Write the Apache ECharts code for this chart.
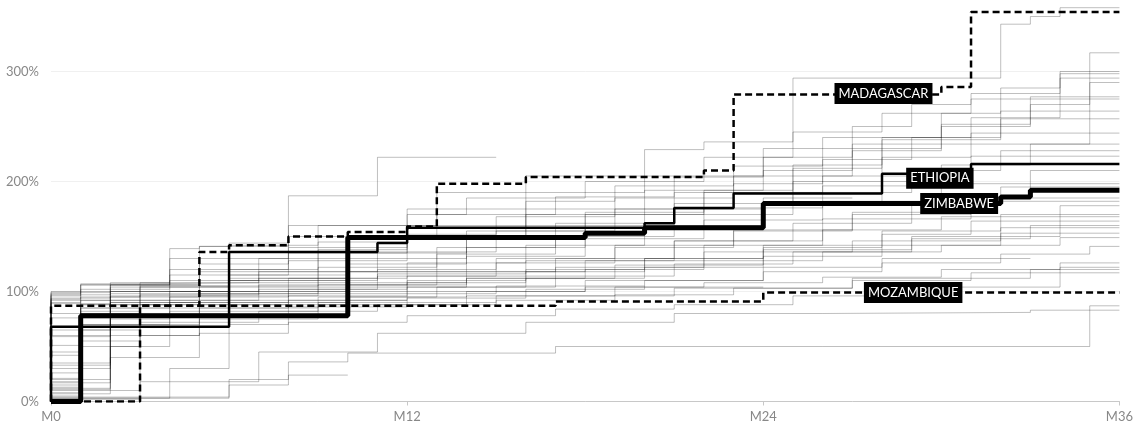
<!DOCTYPE html>
<html>
<head>
<meta charset="utf-8">
<script src="https://cdn.jsdelivr.net/npm/echarts@6/dist/echarts.min.js"></script>
<style>
  html, body { margin: 0; padding: 0; background: #fff; }
  #chart { width: 1136px; height: 426px; }
</style>
</head>
<body>
<div id="chart"></div>
<script>
// x = months since start, y = percent. each line is a list of [month, new level] change points
var xTicks = [0, 12, 24, 36];
var yTicks = [0, 100, 200, 300];

var zimbabwe = [[0,0],[1,78],[10,149],[18,153],[20,158],[24,180],[32,186],[33,192],[36,192]];
var ethiopia = [[0,0],[0,68],[6,136],[11,144],[12,158],[20,162],[21,176],[23,189],[28,207],[31,216],[36,216]];
var madagascar = [[0,0],[0,87],[5,136],[6,142],[8,150],[10,154],[12,159],[13,198],[16,204],[22,210],[23,279],[30,286],[31,354],[36,354]];
var mozambique = [[0,0],[3,87],[17,91],[24,99],[36,99]];

var labelNames = ['MADAGASCAR', 'ETHIOPIA', 'ZIMBABWE', 'MOZAMBIQUE'];
var labelSpots = [[28.05, 280], [29.95, 203], [30.6, 180], [29.05, 99]];

// the other countries (grey)
var otherCountries = [
  [[0,0],[0,92],[2,106],[5,141],[8,160],[13,190],[16,205],[20,229],[22,236],[25,294],[32,343],[33,350],[34,358],[36,358]],
  [[0,0],[0,90],[1,100],[3,108],[6,142],[9,160],[12,175],[16,190],[20,205],[24,222],[27,234],[35,317],[36,317]],
  [[0,0],[0,99],[2,108],[4,130],[8,150],[12,170],[14,185],[18,200],[22,222],[25,245],[28,262],[31,275],[34,300],[36,300]],
  [[0,0],[1,95],[3,105],[6,120],[9,145],[12,160],[16,182],[19,196],[23,214],[26,240],[30,262],[32,285],[34,298],[36,298]],
  [[0,0],[0,60],[1,88],[4,110],[7,130],[10,150],[13,170],[17,186],[21,204],[24,230],[27,250],[29,270],[31,280],[34,294],[36,294]],
  [[0,0],[0,15],[1,92],[3,104],[5,118],[9,138],[12,152],[15,168],[19,185],[23,205],[27,228],[30,250],[33,270],[35,290],[36,290]],
  [[0,0],[0,97],[2,106],[5,125],[8,140],[12,158],[16,175],[20,192],[24,210],[27,230],[30,252],[33,277],[36,277]],
  [[0,0],[0,8],[1,85],[2,100],[6,112],[10,130],[14,150],[18,170],[22,192],[25,215],[28,240],[31,258],[34,275],[36,275]],
  [[0,0],[0,93],[1,102],[4,115],[8,128],[12,150],[16,170],[21,190],[25,212],[28,238],[32,264],[36,264]],
  [[0,0],[0,42],[1,80],[3,100],[7,118],[11,136],[15,155],[19,175],[23,198],[26,220],[29,240],[32,257],[36,257]],
  [[0,0],[0,12],[2,90],[5,105],[9,122],[13,140],[17,162],[21,180],[25,200],[28,222],[31,244],[36,244]],
  [[0,0],[0,89],[2,98],[6,110],[10,125],[14,140],[18,158],[22,176],[26,196],[30,215],[33,234],[36,234]],
  [[0,0],[1,70],[2,95],[5,104],[9,118],[13,134],[17,150],[21,170],[25,190],[29,210],[32,228],[36,228]],
  [[0,0],[0,26],[1,88],[4,100],[8,112],[12,126],[16,142],[20,160],[24,180],[28,200],[31,223],[36,223]],
  [[0,0],[0,76],[2,96],[6,108],[10,118],[14,132],[18,148],[22,165],[26,182],[30,198],[33,210],[36,210]],
  [[0,0],[0,5],[1,65],[3,92],[7,102],[11,114],[15,126],[19,140],[23,156],[27,172],[30,186],[33,198],[36,198]],
  [[0,0],[0,33],[2,85],[5,96],[9,106],[13,118],[17,130],[21,146],[25,162],[29,180],[32,195],[36,195]],
  [[0,0],[0,100],[1,107],[3,108],[7,112],[11,120],[15,130],[19,142],[23,155],[27,170],[31,185],[36,185]],
  [[0,0],[0,2],[1,55],[3,88],[6,98],[10,108],[14,118],[18,128],[22,142],[26,156],[30,168],[34,178],[36,178]],
  [[0,0],[0,17],[2,75],[4,90],[8,100],[12,108],[16,118],[20,130],[24,142],[28,155],[32,170],[36,170]],
  [[0,0],[0,51],[1,85],[4,95],[8,102],[12,110],[16,120],[20,130],[24,140],[28,152],[31,164],[36,164]],
  [[0,0],[0,10],[3,60],[5,85],[9,95],[13,104],[17,114],[21,125],[25,136],[29,148],[33,160],[36,160]],
  [[0,0],[0,21],[1,70],[4,88],[8,96],[12,104],[16,112],[20,122],[24,132],[28,142],[32,153],[36,153]],
  [[0,0],[0,65],[2,92],[6,100],[10,106],[14,112],[18,120],[22,128],[26,136],[30,142],[34,149],[36,149]],
  [[0,0],[0,3],[4,30],[6,70],[8,86],[12,94],[16,102],[20,110],[24,118],[28,126],[32,134],[35,141],[36,141]],
  [[0,0],[0,59],[2,80],[6,88],[10,95],[14,100],[18,104],[22,108],[26,113],[30,120],[34,126],[36,126]],
  [[0,0],[0,13],[1,50],[3,72],[7,82],[11,88],[15,92],[19,97],[23,103],[27,110],[31,117],[34,122],[36,122]],
  [[0,0],[0,7],[2,40],[5,62],[8,72],[12,78],[17,84],[21,88],[25,96],[28,104],[34,117],[36,117]],
  [[0,0],[0,4],[6,20],[8,36],[10,44],[17,50],[35,87],[36,87]],
  [[0,0],[0,2],[3,18],[7,45],[11,62],[16,72],[21,80],[26,81],[33,83],[36,83]],
  [[0,0],[0,94],[2,104],[6,110],[11,116],[16,128],[21,146],[26,166],[31,182],[36,182]],
  [[0,0],[1,60],[2,90],[5,98],[9,104],[14,112],[19,124],[24,138],[29,150],[34,168],[36,168]],
  [[0,0],[0,18],[1,82],[3,97],[7,106],[12,114],[17,122],[22,136],[27,146],[32,158],[36,158]],
  [[0,0],[0,11],[2,50],[4,82],[9,90],[15,96],[21,103],[27,112],[33,120],[36,120]],
  // countries with a shorter record
  [[0,0],[0,96],[1,106],[4,139],[5,141],[6,144],[8,187],[11,222],[15,222]],
  [[0,0],[0,3],[6,15],[8,24],[10,24]],
  [[0,0],[0,30],[2,60],[5,75],[9,88],[14,96],[19,104],[24,104]],
  [[0,0],[0,80],[2,100],[6,115],[10,135],[14,155],[18,172],[22,190],[26,205],[30,205]],
  [[0,0],[0,20],[2,78],[6,92],[12,100],[18,110],[24,122],[28,130],[33,130]],
  [[0,0],[0,45],[1,78],[5,90],[10,98],[15,105],[20,105]],
  [[0,0],[0,98],[1,106],[4,120],[8,135],[12,148],[16,160],[20,175],[24,185],[27,185]],
  [[0,0],[0,35],[2,70],[5,85],[8,92],[12,92]]
];

var chart = echarts.init(document.getElementById('chart'));
var font = 'Lato, "Open Sans", sans-serif';

var series = otherCountries.map(function (pts) {
  return {
    type: 'line', step: 'end', data: pts, showSymbol: false, silent: true, z: 1,
    lineStyle: { color: 'rgba(0,0,0,0.25)', width: 1 }
  };
});

function countryLine(pts, width, dashed, idx) {
  return {
    type: 'line', step: 'end', data: pts, showSymbol: false, silent: true, z: 3,
    lineStyle: { color: '#000', width: width, type: dashed ? [7, 4] : 'solid' },
    markPoint: {
      symbol: 'rect', symbolSize: 1, silent: true,
      itemStyle: { color: 'rgba(0,0,0,0)' },
      label: {
        show: true, position: 'inside', formatter: labelNames[idx],
        color: '#fff', backgroundColor: '#000', padding: [4, 4, 4, 4],
        fontSize: 13, fontFamily: font
      },
      data: [{ coord: labelSpots[idx] }]
    }
  };
}

series.push(countryLine(mozambique, 2.5, true, 3));
series.push(countryLine(madagascar, 2.5, true, 0));
series.push(countryLine(ethiopia, 2.5, false, 1));
series.push(countryLine(zimbabwe, 5, false, 2));

var option = {
  animation: false,
  backgroundColor: '#fff',
  grid: { left: 51, right: 8, top: 5.5, bottom: 24.5 },
  xAxis: {
    type: 'value', min: 0, max: 36, interval: 12,
    axisLine: { lineStyle: { color: '#c8c8c8' } },
    axisTick: { length: 4, lineStyle: { color: '#c8c8c8' } },
    splitLine: { show: false },
    axisLabel: {
      color: '#888', fontSize: 13, fontFamily: font, margin: 9,
      formatter: function (v) { return xTicks.indexOf(v) >= 0 ? 'M' + v : ''; }
    }
  },
  yAxis: {
    type: 'value', min: 0, max: 360, interval: 100,
    axisLine: { show: false },
    axisTick: { show: false },
    // last split line sits at the top edge (360) and is kept invisible
    splitLine: { lineStyle: { color: ['#f0f0f0', '#f0f0f0', '#f0f0f0', '#f0f0f0', '#ffffff'] } },
    axisLabel: {
      color: '#888', fontSize: 13, fontFamily: font, margin: 12,
      formatter: function (v) { return yTicks.indexOf(v) >= 0 ? v + '%' : ''; }
    }
  },
  series: series
};

chart.setOption(option);
</script>
</body>
</html>
